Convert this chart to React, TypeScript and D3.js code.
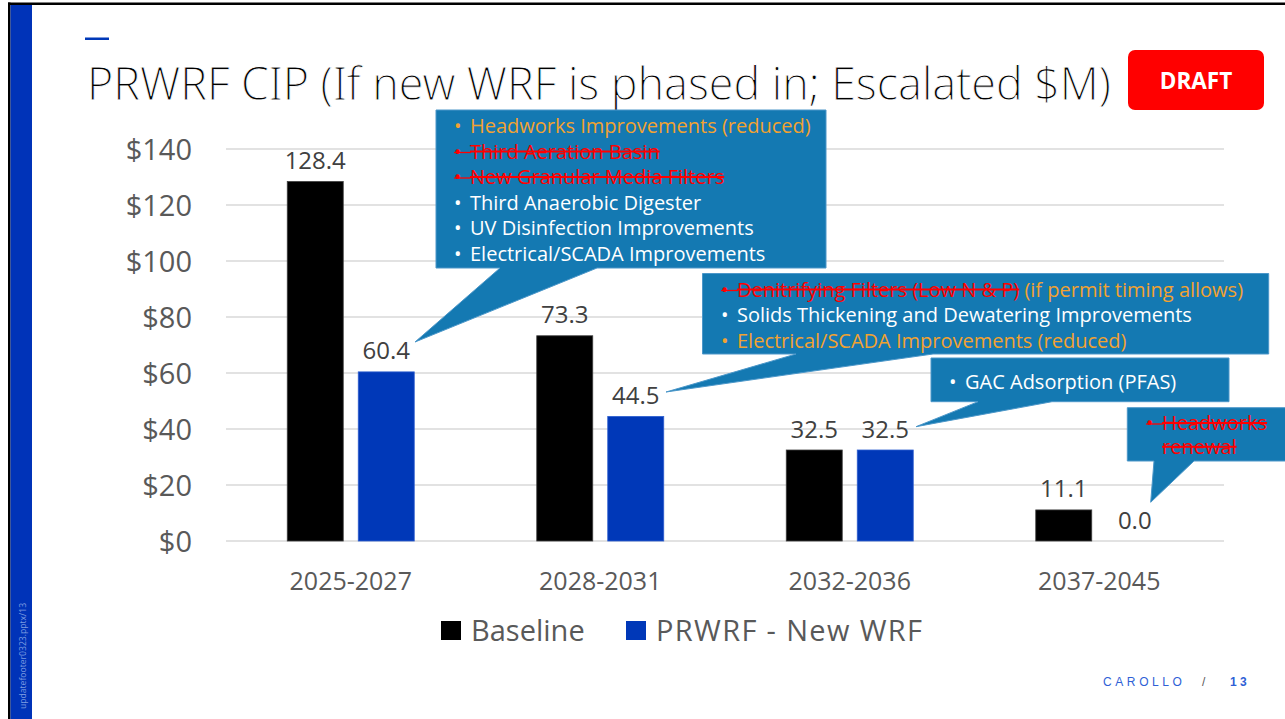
import React from "react";
import * as d3 from "d3";

const categories = ["2025-2027", "2028-2031", "2032-2036", "2037-2045"];
const seriesNames = ["Baseline", "PRWRF - New WRF"];
const baselineValues = [128.4, 73.3, 32.5, 11.1];
const newWrfValues = [60.4, 44.5, 32.5, 0.0];
const yTickValues = [0, 20, 40, 60, 80, 100, 120, 140];

const titleText = "PRWRF CIP (If new WRF is phased in; Escalated $M)";
const draftText = "DRAFT";
const footerText = "CAROLLO";
const pageNumber = "13";
const fileTag = "updatefooter0323.pptx/13";

type Part = { text: string; kind: "orange" | "red" | "white" };
const callout1Lines: Part[][] = [
  [{ text: "Headworks Improvements (reduced)", kind: "orange" }],
  [{ text: "Third Aeration Basin", kind: "red" }],
  [{ text: "New Granular Media Filters", kind: "red" }],
  [{ text: "Third Anaerobic Digester", kind: "white" }],
  [{ text: "UV Disinfection Improvements", kind: "white" }],
  [{ text: "Electrical/SCADA Improvements", kind: "white" }],
];
const callout2Lines: Part[][] = [
  [
    { text: "Denitrifying Filters (Low N & P)", kind: "red" },
    { text: " (if permit timing allows)", kind: "orange" },
  ],
  [{ text: "Solids Thickening and Dewatering Improvements", kind: "white" }],
  [{ text: "Electrical/SCADA Improvements (reduced)", kind: "orange" }],
];
const callout3Lines: Part[][] = [[{ text: "GAC Adsorption (PFAS)", kind: "white" }]];
const callout4Lines: Part[][] = [[{ text: "Headworks", kind: "red" }], [{ text: "renewal", kind: "red" }]];

const W = 1285;
const H = 719;
const FONT = "'Open Sans', 'Segoe UI', sans-serif";
const GRAY = "#595959";
const BOX = "#1479B2";
const BOX_STROKE = "#4C97C9";
const ORANGE = "#F2A230";
const RED = "#FF0000";
const BLUE = "#0038B8";
const colorOf = { orange: ORANGE, red: RED, white: "#FFFFFF" };
const CALLOUT_FS = 20;

const plot = { left: 226, right: 1224, top: 149, bottom: 541 };

type Callout = {
  lines: Part[][];
  box: [number, number, number, number];
  base: [number, number];
  tip: [number, number];
  bulletX: number;
  textX: number;
  firstBaseline: number;
  lineStep: number;
  wrapIndent?: boolean;
};

const callouts: Callout[] = [
  {
    lines: callout1Lines,
    box: [436, 110, 826, 268],
    base: [500, 597],
    tip: [415, 342],
    bulletX: 454,
    textX: 470,
    firstBaseline: 133,
    lineStep: 25.5,
  },
  {
    lines: callout2Lines,
    box: [702.5, 273.5, 1268.7, 354],
    base: [796, 933],
    tip: [666, 392],
    bulletX: 721,
    textX: 737,
    firstBaseline: 296.5,
    lineStep: 25.5,
  },
  {
    lines: callout3Lines,
    box: [931, 358, 1229, 401.7],
    base: [978, 1052],
    tip: [916, 426.7],
    bulletX: 949,
    textX: 965,
    firstBaseline: 388.7,
    lineStep: 25.5,
  },
  {
    lines: callout4Lines,
    box: [1127.3, 407.7, 1292, 461],
    base: [1154, 1194],
    tip: [1150.7, 502.3],
    bulletX: 1146,
    textX: 1162,
    firstBaseline: 430,
    lineStep: 23.8,
    wrapIndent: true,
  },
];

function calloutPath(c: Callout) {
  const [x0, y0, x1, y1] = c.box;
  const p = d3.path();
  p.moveTo(x0, y0);
  p.lineTo(x1, y0);
  p.lineTo(x1, y1);
  p.lineTo(c.base[1], y1);
  p.lineTo(c.tip[0], c.tip[1]);
  p.lineTo(c.base[0], y1);
  p.lineTo(x0, y1);
  p.closePath();
  return p.toString();
}

export default function App() {
  const x = d3.scaleBand<string>().domain(categories).range([plot.left, plot.right]).paddingInner(0).paddingOuter(0);
  const step = x.bandwidth();
  const groupW = 127;
  const xs = d3
    .scaleBand<string>()
    .domain(seriesNames)
    .range([(step - groupW) / 2, (step + groupW) / 2])
    .paddingInner(15 / 71)
    .paddingOuter(0);
  const y = d3.scaleLinear().domain([0, 140]).range([plot.bottom, plot.top]);
  const series = [
    { name: seriesNames[0], values: baselineValues, color: "#000000", stroke: "#404040" },
    { name: seriesNames[1], values: newWrfValues, color: BLUE, stroke: "#2E5FD0" },
  ];
  const fmt = d3.format(".1f");
  const strikeDy = -0.3 * CALLOUT_FS;

  return (
    <svg
      width={W}
      height={H}
      viewBox={`0 0 ${W} ${H}`}
      style={{ position: "absolute", left: 0, top: 0, background: "#fff", display: "block" }}
    >
      <rect x={0} y={0} width={W} height={H} fill="#fff" />
      {/* frame */}
      <rect x={8} y={2.5} width={W - 8} height={2.5} fill="#000" />
      <rect x={8} y={2.5} width={2.5} height={H} fill="#000" />
      <rect x={10.5} y={5} width={21.5} height={H} fill="#0033B8" />
      <text transform={`translate(25.5, 709) rotate(-90)`} fontFamily={FONT} fontSize={8.6} fill="#7C9BE0">
        {fileTag}
      </text>
      {/* accent dash */}
      <rect x={85} y={37.5} width={24} height={2.5} fill="#0038B8" />
      {/* title */}
      <text
        x={87}
        y={100}
        fontFamily="'Noto Sans', 'Open Sans', sans-serif"
        fontWeight={300}
        fontSize={45}
        fill="#000000"
        stroke="#FFFFFF"
        strokeWidth={0.8}
        textLength={1024}
        lengthAdjust="spacingAndGlyphs"
      >
        {titleText}
      </text>
      {/* draft */}
      <rect x={1128} y={50} width={136} height={60} rx={7} fill="#FF0000" />
      <text x={1196} y={88.7} textAnchor="middle" fontFamily={FONT} fontWeight={700} fontSize={22.5} fill="#fff">
        {draftText}
      </text>

      {/* gridlines */}
      {yTickValues.map((t) => (
        <line key={t} x1={plot.left} x2={plot.right} y1={y(t)} y2={y(t)} stroke="#D9D9D9" strokeWidth={1.3} />
      ))}
      {yTickValues.map((t) => (
        <text key={"l" + t} x={192} y={y(t) + 11} textAnchor="end" fontFamily={FONT} fontSize={29} fill={GRAY}>
          {"$" + t}
        </text>
      ))}

      {/* bars */}
      {series.map((s) =>
        categories.map((c, i) => {
          const bx = (x(c) ?? 0) + (xs(s.name) ?? 0);
          const v = s.values[i];
          return (
            <g key={s.name + c}>
              {v > 0 && (
                <rect
                  x={bx}
                  y={y(v)}
                  width={xs.bandwidth()}
                  height={y(0) - y(v)}
                  fill={s.color}
                  stroke={s.stroke}
                  strokeWidth={0.8}
                />
              )}
              <text
                x={bx + xs.bandwidth() / 2}
                y={y(v) - 12.5}
                textAnchor="middle"
                fontFamily={FONT}
                fontSize={24}
                fill="#404040"
              >
                {fmt(v)}
              </text>
            </g>
          );
        })
      )}

      {/* category labels */}
      {categories.map((c) => (
        <text key={c} x={(x(c) ?? 0) + step / 2} y={590} textAnchor="middle" fontFamily={FONT} fontSize={25} fill={GRAY}>
          {c}
        </text>
      ))}

      {/* legend */}
      <rect x={441} y={621} width={20} height={19} fill="#000" />
      <text x={471} y={640.5} fontFamily={FONT} fontSize={29} fill={GRAY}>
        {seriesNames[0]}
      </text>
      <rect x={626} y={621} width={20} height={19} fill={BLUE} />
      <text
        x={656}
        y={640.5}
        fontFamily={FONT}
        fontSize={29}
        fill={GRAY}
        textLength={266}
        lengthAdjust="spacing"
      >
        {seriesNames[1]}
      </text>

      {/* callouts */}
      {callouts.map((c, ci) => (
        <g key={"c" + ci}>
          <path d={calloutPath(c)} fill={BOX} stroke={BOX_STROKE} strokeWidth={1} />
          {c.lines.map((parts, li) => {
            const yy = c.firstBaseline + li * c.lineStep;
            const isWrap = c.wrapIndent && li > 0;
            const first = parts[0];
            const strike = first.kind === "red";
            return (
              <g key={li}>
                {!isWrap && (
                  <text x={c.bulletX} y={yy} fontFamily={FONT} fontSize={CALLOUT_FS} fill={colorOf[first.kind]}>
                    {"\u2022"}
                  </text>
                )}
                {strike && !isWrap && (
                  <line
                    x1={c.bulletX}
                    x2={c.textX + 1}
                    y1={yy + strikeDy}
                    y2={yy + strikeDy}
                    stroke={RED}
                    strokeWidth={1.3}
                  />
                )}
                <text x={c.textX} y={yy} fontFamily={FONT} fontSize={CALLOUT_FS} style={{ whiteSpace: "pre" }}>
                  <tspan fill={colorOf[first.kind]} style={{ textDecoration: strike ? "line-through" : "none" }}>
                    {first.text}
                  </tspan>
                  {parts.slice(1).map((p, pi) => (
                    <tspan
                      key={pi}
                      fill={colorOf[p.kind]}
                      style={{ textDecoration: p.kind === "red" ? "line-through" : "none" }}
                    >
                      {p.text}
                    </tspan>
                  ))}
                </text>
              </g>
            );
          })}
        </g>
      ))}

      {/* footer */}
      <text x={1103} y={686} fontFamily="'Liberation Sans', Arial, sans-serif" fontSize={12} letterSpacing={3.6} fill="#2F5FD6">
        {footerText}
      </text>
      <text x={1202} y={686} fontFamily="'Liberation Sans', Arial, sans-serif" fontSize={12} fill="#595959">
        /
      </text>
      <text
        x={1230}
        y={686}
        fontFamily="'Liberation Sans', Arial, sans-serif"
        fontSize={12}
        fontWeight={700}
        letterSpacing={3.4}
        fill="#2F5FD6"
      >
        {pageNumber}
      </text>
    </svg>
  );
}
